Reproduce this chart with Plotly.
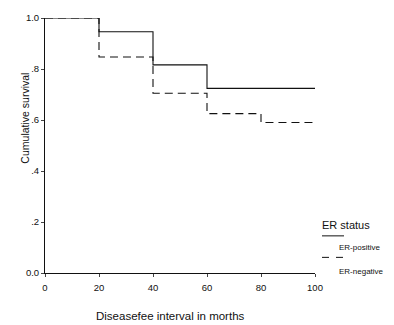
import plotly.graph_objects as go

months = [0, 20, 40, 60, 80, 100]
er_positive = [1.0, 0.946, 0.816, 0.724, 0.724, 0.724]
er_negative = [1.0, 0.847, 0.705, 0.625, 0.59, 0.59]
y_ticks = [0, 0.2, 0.4, 0.6, 0.8, 1.0]
y_tick_labels = ["0.0", ".2", ".4", ".6", ".8", "1.0"]
x_ticks = [0, 20, 40, 60, 80, 100]

FONT = "Liberation Sans, Arial, sans-serif"

fig = go.Figure()
fig.add_trace(go.Scatter(x=months, y=er_positive, mode="lines", line_shape="hv",
                         line=dict(color="#111111", width=1.1), name="ER-positive"))
fig.add_trace(go.Scatter(x=months, y=er_negative, mode="lines", line_shape="hv",
                         line=dict(color="#111111", width=1.1, dash="8px,5px"), name="ER-negative"))

W, H = 394, 325
ml, mr, mt, mb = 45, 79, 12, 52
pw, ph = W - ml - mr, H - mt - mb

def px(x):
    return (x - ml) / pw

def py(y):
    return (H - mb - y) / ph

fig.update_layout(
    width=W, height=H,
    margin=dict(l=ml, r=mr, t=mt, b=mb),
    paper_bgcolor="white", plot_bgcolor="white",
    showlegend=False,
    font=dict(family=FONT, color="#111111", size=9.5),
    xaxis=dict(range=[0, 100], tickvals=x_ticks, ticks="outside", ticklen=3,
               ticklabelstandoff=3,
               showline=True, linecolor="#111111", linewidth=1, showgrid=False,
               zeroline=False, tickfont=dict(size=9.5)),
    yaxis=dict(range=[0, 1], tickvals=y_ticks, ticktext=y_tick_labels, ticks="outside", ticklen=3,
               showline=True, linecolor="#111111", linewidth=1, showgrid=False,
               zeroline=False, tickfont=dict(size=9.5)),
    shapes=[
        dict(type="line", xref="paper", yref="paper", x0=px(322), x1=px(344), y0=py(235), y1=py(235),
             line=dict(color="#111111", width=1)),
        dict(type="line", xref="paper", yref="paper", x0=px(322), x1=px(344), y0=py(257), y1=py(257),
             line=dict(color="#111111", width=1, dash="7px,7px")),
    ],
    annotations=[
        dict(text="Cumulative survival", xref="paper", yref="paper", x=px(25), y=py(115),
             xanchor="center", yanchor="middle", textangle=-90, showarrow=False,
             font=dict(size=10.5)),
        dict(text="Diseasefee interval in morths", xref="paper", yref="paper", x=px(170), y=py(317),
             xanchor="center", yanchor="middle", showarrow=False, font=dict(size=11.5)),
        dict(text="ER status", xref="paper", yref="paper", x=px(320), y=py(224), xanchor="left",
             yanchor="middle", showarrow=False, font=dict(size=11)),
        dict(text="ER-positive", xref="paper", yref="paper", x=px(337), y=py(247), xanchor="left",
             yanchor="middle", showarrow=False, font=dict(size=8)),
        dict(text="ER-negative", xref="paper", yref="paper", x=px(337), y=py(271), xanchor="left",
             yanchor="middle", showarrow=False, font=dict(size=8)),
    ],
)

fig.write_html("out.html")
